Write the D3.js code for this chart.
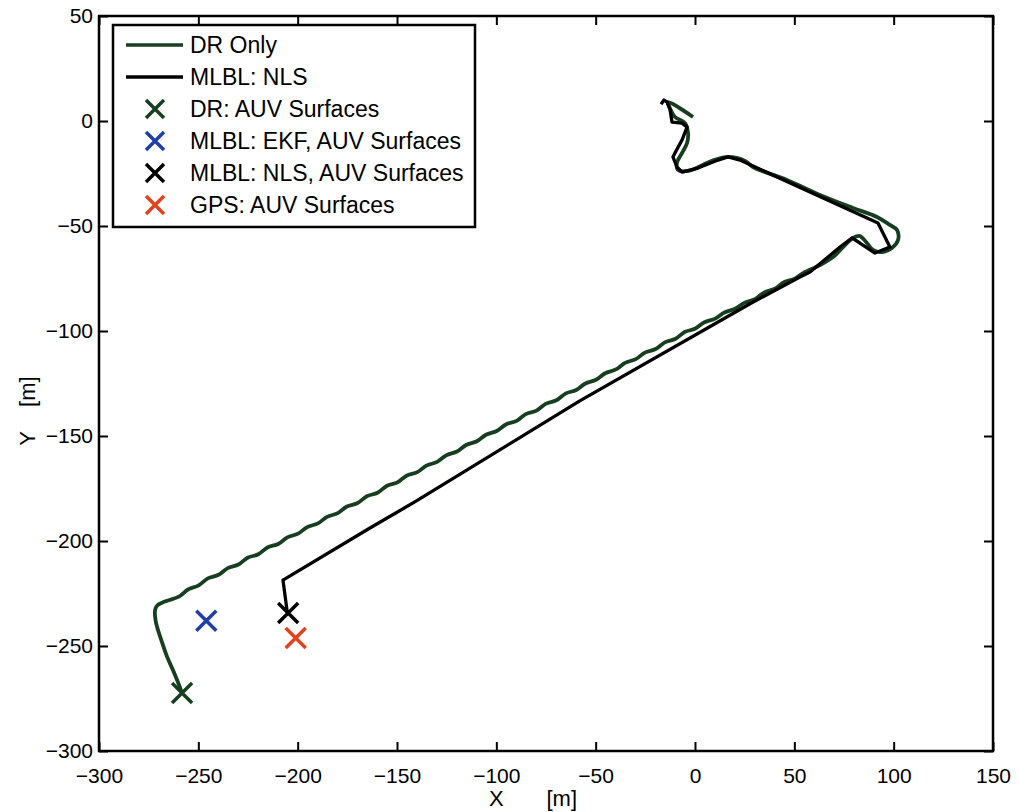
<!DOCTYPE html>
<html><head><meta charset="utf-8">
<script src="https://cdn.jsdelivr.net/npm/d3@7"></script>
<style>body{margin:0;background:#fff}svg{display:block}text{font-family:"Liberation Sans",Arial,sans-serif;white-space:pre}</style>
</head><body><svg id="c" width="1019" height="812"></svg>
<script>
const xTicks=[-300,-250,-200,-150,-100,-50,0,50,100,150];
const yTicks=[50,0,-50,-100,-150,-200,-250,-300];
const xDomain=[-300,150], yDomain=[-300,50];
const drPath=[[-1.0,1.9],[-13.6,9.0],[-12.6,6.0],[-10.1,1.9],[-5.0,-1.0],[-3.5,-5.7],[-4.0,-10.5],[-6.5,-15.2],[-9.1,-20.0],[-8.6,-23.3],[-3.5,-23.8],[8.6,-19.0],[16.6,-17.1],[25.2,-19.0],[29.2,-21.9],[46.3,-28.1],[62.9,-35.2],[79.5,-41.4],[91.6,-45.7],[98.1,-49.5],[101.7,-51.9],[102.2,-56.7],[99.1,-60.5],[94.1,-62.4],[89.6,-61.4],[86.1,-57.6],[83.0,-54.8],[79.5,-55.7],[76.5,-58.1],[69.5,-64.8],[62.9,-68.6],[54.4,-72.4],
[50.2,-75.1],[44.8,-76.8],[40.2,-79.9],[34.8,-81.7],[30.2,-84.8],[24.8,-86.6],[20.2,-89.4],[14.8,-91.2],[10.2,-94.1],[4.8,-95.8],[0.2,-98.8],[-5.2,-100.5],[-9.8,-103.7],[-15.2,-105.4],[-19.8,-108.6],[-25.2,-110.3],[-29.8,-113.4],[-35.2,-115.2],[-39.8,-118.3],[-45.2,-120.1],[-49.8,-123.2],[-55.2,-125.0],[-59.8,-128.1],[-65.2,-129.8],[-69.8,-133.0],[-75.2,-134.7],[-79.8,-137.9],[-85.2,-139.6],[-89.8,-142.8],[-95.2,-144.5],[-99.8,-147.6],[-105.2,-149.4],[-109.8,-152.5],[-115.2,-154.3],[-119.8,-157.4],[-125.2,-159.2],[-129.8,-162.3],[-135.2,-164.1],[-139.8,-167.2],[-145.2,-168.9],[-149.8,-172.1],[-155.2,-173.8],[-159.8,-177.0],[-165.2,-178.7],[-169.8,-181.9],[-175.2,-183.6],[-179.8,-186.7],[-185.2,-188.5],[-189.8,-191.6],[-195.2,-193.4],[-199.8,-196.5],[-205.2,-198.3],[-209.8,-201.4],[-215.2,-203.1],[-219.8,-206.3],[-225.2,-208.0],[-229.8,-211.2],[-235.2,-212.9],[-239.8,-216.1],[-245.2,-217.8],[-249.8,-221.1],[-255.2,-223.1],[-259.8,-226.5],[-265.2,-228.3],
[-268,-229.3],[-270.8,-230.8],[-271.8,-233],[-271.5,-238],[-270.3,-242.4],[-268,-249],[-265.7,-255.2],[-263,-261],[-260.7,-266.2],[-258.2,-272.4]];
const nlsPath=[[-17.1,8.0],[-15.6,10.0],[-14.1,9.0],[-12.6,5.7],[-11.6,-0.5],[-6.5,-1.0],[-4.0,-2.9],[-6.5,-9.0],[-10.1,-15.2],[-11.1,-17.1],[-9.1,-21.9],[-6.5,-24.3],[1.5,-22.4],[11.6,-18.6],[16.6,-17.1],[22.6,-18.6],[92.1,-48.6],[94.6,-53.3],[98.1,-60.0],[90.6,-62.9],[83.0,-58.1],[79.0,-55.7],[73.0,-60.0],[57.9,-71.9],[52.8,-74.3],[27.7,-87.0],[-58,-133.3],[-140,-180.8],[-163.6,-193.8],[-207.4,-218.6],[-205.3,-233.5]];
const surfaceNames=["DR: AUV Surfaces","MLBL: EKF, AUV Surfaces","MLBL: NLS, AUV Surfaces","GPS: AUV Surfaces"];
const surfaceX=[-258.2,-246,-204.8,-201];
const surfaceY=[-272.4,-238,-234.3,-246.2];
const surfaceColors=["#173f1f","#1f3ea6","#000000","#e2431d"];
const lineNames=["DR Only","MLBL: NLS"];
const lineColors=["#173f1f","#000000"];

const svg=d3.select("#c");
const L=99,R=993,T=16,B=751;
const x=d3.scaleLinear().domain(xDomain).range([L,R]);
const y=d3.scaleLinear().domain(yDomain).range([B,T]);
const fmt=d=>d<0?"\u2212"+(-d):String(d);

const tk=9;
const gx=svg.append("g").attr("transform",`translate(0,${B})`).call(d3.axisBottom(x).tickValues(xTicks).tickSizeInner(-tk).tickSizeOuter(0).tickPadding(tk+8).tickFormat(fmt));
const gx2=svg.append("g").attr("transform",`translate(0,${T})`).call(d3.axisTop(x).tickValues(xTicks).tickSizeInner(-tk).tickSizeOuter(0).tickFormat(""));
const gy=svg.append("g").attr("transform",`translate(${L},0)`).call(d3.axisLeft(y).tickValues(yTicks).tickSizeInner(-tk).tickSizeOuter(0).tickPadding(6).tickFormat(fmt));
const gy2=svg.append("g").attr("transform",`translate(${R},0)`).call(d3.axisRight(y).tickValues(yTicks).tickSizeInner(-tk).tickSizeOuter(0).tickFormat(""));
[gx,gx2,gy,gy2].forEach(g=>{g.select(".domain").remove();g.selectAll("line").attr("stroke","#000").attr("stroke-width",2);g.selectAll("text").attr("font-size",21).attr("fill","#000").style("font-family","Liberation Sans, Arial, sans-serif");});
svg.append("rect").attr("x",L).attr("y",T).attr("width",R-L).attr("height",B-T).attr("fill","none").attr("stroke","#000").attr("stroke-width",2.5);

const line=d3.line().x(d=>x(d[0])).y(d=>y(d[1])).curve(d3.curveCatmullRom.alpha(0.5));
svg.append("path").datum(drPath).attr("d",line).attr("fill","none").attr("stroke",lineColors[0]).attr("stroke-width",3.8).attr("stroke-linejoin","round");
svg.append("path").datum(nlsPath).attr("d",d3.line().x(d=>x(d[0])).y(d=>y(d[1]))).attr("fill","none").attr("stroke",lineColors[1]).attr("stroke-width",3.3).attr("stroke-linejoin","round");

function cross(g,cx,cy,col,s){
  g.append("path").attr("d",`M${cx-s},${cy-s}L${cx+s},${cy+s}M${cx-s},${cy+s}L${cx+s},${cy-s}`).attr("stroke",col).attr("stroke-width",3.5).attr("fill","none");
}
surfaceX.forEach((v,i)=>cross(svg,x(v),y(surfaceY[i]),surfaceColors[i],10));

const lg=svg.append("g");
lg.append("rect").attr("x",113).attr("y",25).attr("width",362).attr("height",202).attr("fill","#fff").attr("stroke","#000").attr("stroke-width",2.5);
const rowY=[45,77,109,141,173,205];
lineNames.forEach((n,i)=>{
  lg.append("line").attr("x1",126).attr("x2",183).attr("y1",rowY[i]).attr("y2",rowY[i]).attr("stroke",lineColors[i]).attr("stroke-width",3.6);
  lg.append("text").attr("x",190).attr("y",rowY[i]+8).attr("font-size",23).text(n);
});
surfaceNames.forEach((n,i)=>{
  cross(lg,155,rowY[i+2],surfaceColors[i],9);
  lg.append("text").attr("x",190).attr("y",rowY[i+2]+8).attr("font-size",23).text(n);
});

svg.append("text").attr("x",533).attr("y",806).attr("text-anchor","middle").attr("font-size",22).text("X       [m]");
svg.append("text").attr("transform","translate(35,411) rotate(-90)").attr("text-anchor","middle").attr("font-size",22).text("Y    [m]");
</script></body></html>
